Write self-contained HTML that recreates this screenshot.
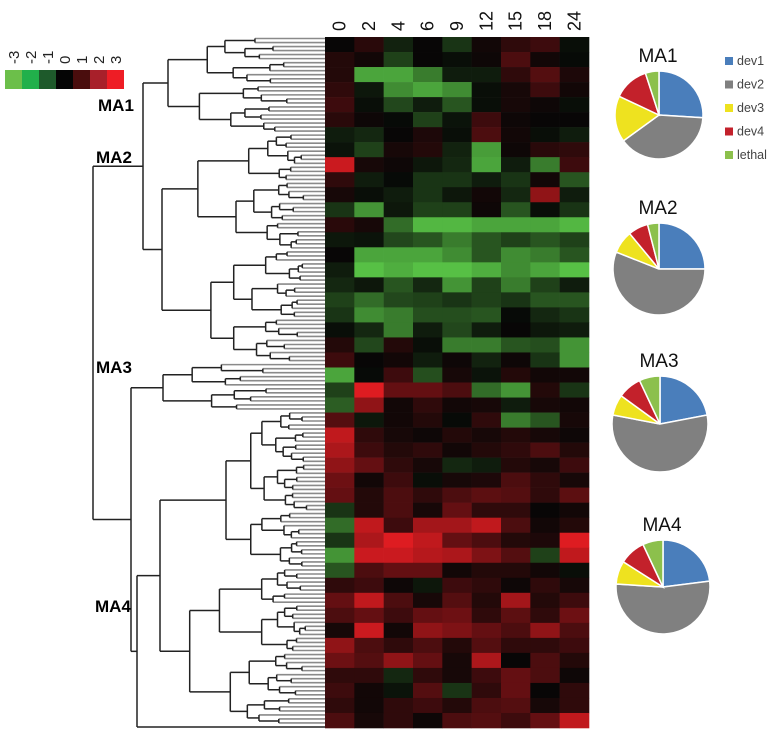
<!DOCTYPE html>
<html><head><meta charset="utf-8"><style>
html,body{margin:0;padding:0;background:#fff;}
svg{display:block;font-family:"Liberation Sans",sans-serif;}
</style></head><body>
<svg id="chart" width="773" height="733" viewBox="0 0 773 733" xmlns="http://www.w3.org/2000/svg">
<g id="scale"></g>
<g id="dendro"></g>
<g id="heat"></g>
<g id="cols"></g>
<g id="pies"></g>
<g id="legend"></g>
<text x="98" y="111" font-size="17" font-weight="bold">MA1</text>
<text x="96" y="163" font-size="17" font-weight="bold">MA2</text>
<text x="96" y="373" font-size="17" font-weight="bold">MA3</text>
<text x="95" y="612" font-size="17" font-weight="bold">MA4</text>
</svg>
<script>
const NS="http://www.w3.org/2000/svg";
const timepoints=["0","2","4","6","9","12","15","18","24"];
const scaleTicks=["-3","-2","-1","0","1","2","3"];
const scaleColors=["#6cbf4a","#21b04b","#1e5a2b","#050505","#4a0d0d","#a8202a","#ee1d25"];
const heatRows=[
[0,0.7,-0.7,0,-1,0.3,0.8,1,-0.3],
[0.6,0.3,-1.2,0,-0.3,0.2,1.2,0.3,-0.2],
[0.6,-2.5,-2.5,-2,-0.6,-0.6,0.8,1.3,0.5],
[0.8,-0.5,-2.2,-2.5,-2.2,-0.3,0.4,1,0.3],
[1,-0.3,-1.3,-0.6,-1.5,-0.3,0.4,0.2,-0.3],
[0.7,0.2,-0.2,-1.2,-0.4,1,0.2,0,0],
[-0.6,-0.8,0,0.5,-0.3,1.2,0.3,-0.3,-0.6],
[-0.4,-1.2,0.4,0.6,-0.7,-2.4,0.2,0.7,0.8],
[2.6,0.4,0.2,-0.5,-0.8,-2.5,-0.6,-2,1],
[0.8,-0.6,-0.2,-1,-1,-0.6,-1,0.3,-1.5],
[0.4,-0.3,-0.6,-1,-0.5,0.3,-0.8,2,-0.6],
[-1,-2.3,-0.5,-1.2,-1.2,0.2,-1.5,-0.3,-1],
[0.7,0.4,-1.8,-2.7,-2.7,-2.5,-2.5,-2.5,-2.7],
[-0.5,-0.4,-1.3,-1.5,-2,-1.5,-1.2,-1.5,-1.2],
[0,-2.5,-2.5,-2.5,-2.2,-1.5,-2.2,-2,-1.5],
[-0.6,-2.8,-2.6,-2.8,-2.8,-2.6,-2.2,-2.5,-2.8],
[-0.8,-0.5,-1.5,-0.8,-2.3,-1.2,-2,-1.2,-0.6],
[-1.2,-1.8,-1.3,-1.2,-1,-1.2,-1,-1.5,-1.5],
[-1,-2.2,-2,-1.4,-1.4,-1.5,-0.2,-0.8,-1],
[-0.3,-0.8,-2,-0.6,-1.3,-0.6,0,-0.5,-0.6],
[0.6,-1.3,0.6,-0.3,-2,-2,-1.5,-1.4,-2.3],
[1,0,0.3,-0.6,0.2,-0.7,0.2,-1,-2.3],
[-2.5,-0.2,1,-1.4,0.4,-0.4,0.6,0.3,0.3],
[-1.2,2.8,1.5,1.5,1.2,-1.8,-2.3,0.6,-1],
[-1.6,2,0.3,0.8,0.3,0.4,-0.6,0.4,0.3],
[1.3,-0.5,0.3,0.6,-0.2,0.8,-2,-1.5,0.4],
[2.5,0.8,0.4,0.2,0.6,0.4,0.6,0.4,0.2],
[2.3,1,0.6,0.8,0.3,0.6,0.8,1.2,0.6],
[2,1.5,0.8,0.4,-0.8,-0.6,0.6,0.4,1],
[1.6,0.3,1,-0.3,0.4,0.5,1.2,0.8,0.4],
[1.5,0.6,1.2,0.8,1.2,1.4,1.3,0.8,1.4],
[-1,0.6,1.2,0.4,1.5,0.8,0.8,0,0.3],
[-1.8,2.5,1,2.2,2.2,2.5,1.2,0.3,0.6],
[-1,2.3,2.8,2.5,1.5,1.2,0.6,0.5,2.8],
[-2.3,2.6,2.6,2.4,2.3,1.8,1.3,-1.2,2.5],
[-1.5,1.2,1.5,1.5,0.3,0.6,0.6,0.3,-0.3],
[0.8,1,0.2,-0.5,1,0.8,0.2,0.8,0.4],
[1.5,2.5,1.2,0.4,1.3,0.6,2.2,0.6,1],
[1.2,1.5,1,1.5,1.6,0.8,1.4,0.8,1.6],
[0.4,2.6,0.3,2,1.8,1.5,1.2,2,1.2],
[2,1.2,0.8,1.2,0.6,1.3,0.8,0.8,1],
[1.6,1.3,2,1.5,0.4,2.3,0,1.2,0.6],
[0.8,0.8,-0.8,0.8,0.4,1,1.5,1.2,0.2],
[1,0.3,-0.4,1.3,-1,0.8,1.5,0,0.8],
[0.8,0.3,0.8,1,0.6,1.2,1.3,0.4,0.8],
[1.2,0.4,0.8,0.2,1.2,1.3,1,1.5,2.5]];
const pieCategories=["dev1","dev2","dev3","dev4","lethal"];
const pieColors=["#4a7ebb","#808080","#eee21f","#c3212b","#8cc04c"];
const pieNames=["MA1","MA2","MA3","MA4"];
const pieMA1=[26,39,17,13,5];
const pieMA2=[25,56,8,7,4];
const pieMA3=[22,56,7,8,7];
const pieMA4=[23,53,8,9,7];

function el(tag,attrs,parent){const e=document.createElementNS(NS,tag);for(const k in attrs)e.setAttribute(k,attrs[k]);parent.appendChild(e);return e;}
const hx0=325,hx1=589,hy0=37,hy1=728;
const colW=(hx1-hx0)/timepoints.length;
const rowH=(hy1-hy0)/heatRows.length;
const xCol=i=>hx0+i*colW;
const yRow=j=>hy0+j*rowH;
function color(v){const t=Math.pow(Math.min(1,Math.abs(v)/3),1.35);
 if(v<0)return `rgb(${Math.round(5+90*t)},${Math.round(5+205*t)},${Math.round(5+70*t)})`;
 return `rgb(${Math.round(8+235*t)},${Math.round(6+24*t)},${Math.round(6+30*t)})`;}
const heat=document.getElementById('heat');
heatRows.forEach((row,j)=>row.forEach((v,i)=>{
 const r=el('rect',{x:xCol(i).toFixed(2),y:yRow(j).toFixed(2),width:(colW+0.3).toFixed(2),height:(rowH+0.3).toFixed(2),fill:color(v)},heat);
 
 
}));
const cols=document.getElementById('cols');
timepoints.forEach((t,i)=>{const cx=xCol(i)+colW/2;
 const tx=el('text',{x:0,y:0,transform:`translate(${cx+6},31) rotate(-90)`,'font-size':'18',fill:'#111'},cols);
 tx.textContent=t;
 
 });
const sc=document.getElementById('scale');
scaleColors.forEach((c,i)=>{
 const r=el('rect',{x:5+i*17,y:70,width:17,height:19,fill:c},sc);
 
 
 const tx=el('text',{x:0,y:0,transform:`translate(${5+i*17+14},64) rotate(-90)`,'font-size':'15',fill:'#222'},sc);
 tx.textContent=scaleTicks[i];
 
 });
const dg=document.getElementById('dendro');
const NL=172,LX=325;
const leafY=i=>38.5+i*(727-38.5)/(NL-1);
const fr=[0.25,0.15,0.3,0.2,0.35,0.18,0.22,0.4];
const sp=[0.5,0.35,0.6,0.45,0.3,0.55,0.4,0.65];
let fi=0,si=0;
function line(x1,y1,x2,y2,c,w){el('line',{x1,y1,x2,y2,stroke:c,'stroke-width':w},dg);}
function sub(a,b,xp){
 if(a===b){const y=leafY(a);line(xp,y,LX,y,'#8a8a8a',1.6);return y;}
 const nx=xp+(LX-xp)*fr[(fi++)%fr.length];
 let m=a+Math.floor((b-a)*sp[(si++)%sp.length]);if(m>=b)m=b-1;if(m<a)m=a;
 const y1=sub(a,m,nx),y2=sub(m+1,b,nx);
 line(nx,y1,nx,y2,'#222',1.5);
 const y=(y1+y2)/2;line(xp,y,nx,y,'#222',1.5);return y;}
function cluster(a,b,nodeX){
 let m=a+Math.floor((b-a)*0.5);
 const y1=sub(a,m,nodeX),y2=sub(m+1,b,nodeX);
 line(nodeX,y1,nodeX,y2,'#222',1.5);return (y1+y2)/2;}
const yMA1=cluster(0,23,168);
const yMA2=cluster(24,80,162);
const yMA3=cluster(81,92,163);
const yD=cluster(93,170,160);
const yLast=leafY(171);
line(143,yMA1,168,yMA1,'#222',1.5);line(143,yMA2,162,yMA2,'#222',1.5);line(143,yMA1,143,yMA2,'#222',1.5);
const yA=(yMA1+yMA2)/2;
line(137,yD,160,yD,'#222',1.5);line(137,yLast,LX,yLast,'#222',1.5);line(137,yD,137,yLast,'#222',1.5);
const yC=(yD+yLast)/2;
line(131,yMA3,163,yMA3,'#222',1.5);line(131,yC,137,yC,'#222',1.5);line(131,yMA3,131,yC,'#222',1.5);
const yB=(yMA3+yC)/2;
line(93,yA,143,yA,'#222',1.5);line(93,yB,131,yB,'#222',1.5);line(93,yA,93,yB,'#222',1.5);
const pg=document.getElementById('pies');
const pieData=[pieMA1,pieMA2,pieMA3,pieMA4];
const pieCenters=[[659,115,44],[659,269,46],[660,424,48],[663,587,47]];
pieData.forEach((vals,k)=>{const [cx,cy,r]=pieCenters[k];
 const tot=vals.reduce((a,b)=>a+b,0);let ang=0;
 vals.forEach((v,i)=>{const a0=ang/tot*2*Math.PI,a1=(ang+v)/tot*2*Math.PI;ang+=v;
  const x0=cx+r*Math.sin(a0),y0=cy-r*Math.cos(a0),x1=cx+r*Math.sin(a1),y1=cy-r*Math.cos(a1);
  const large=(a1-a0)>Math.PI?1:0;
  const p=el('path',{d:`M${cx},${cy}L${x0.toFixed(2)},${y0.toFixed(2)}A${r},${r} 0 ${large} 1 ${x1.toFixed(2)},${y1.toFixed(2)}Z`,fill:pieColors[i],stroke:'#fff','stroke-width':1.5},pg);
  
  });
 const t=el('text',{x:cx-1,y:cy-r-9,'text-anchor':'middle','font-size':'19',fill:'#111'},pg);
 t.textContent=pieNames[k];
 
 });
const lg=document.getElementById('legend');
pieCategories.forEach((c,i)=>{const y=57+i*23.5;
 const r=el('rect',{x:725,y:y,width:8,height:8,fill:pieColors[i]},lg);
 
 
 const t=el('text',{x:737,y:y+8,'font-size':'12.5',fill:'#444'},lg);
 t.textContent=c;
 
 });
</script>
</body></html>
